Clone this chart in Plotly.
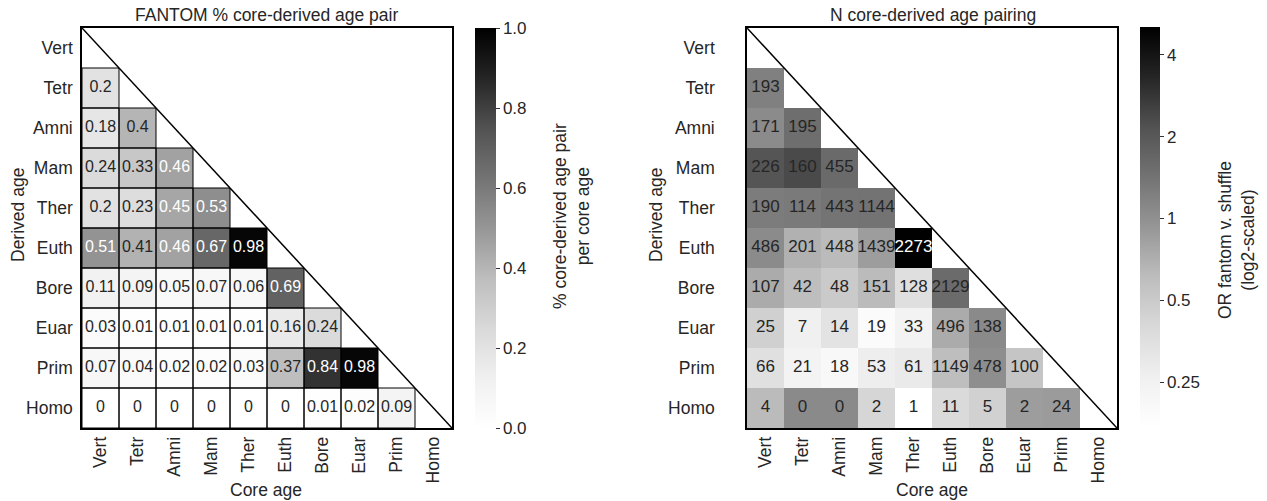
import math
import plotly.graph_objects as go

ages = ["Vert", "Tetr", "Amni", "Mam", "Ther", "Euth", "Bore", "Euar", "Prim", "Homo"]

# Left: fraction of core-derived age pair per core age (row = derived age, lower triangle)
pct_rows = [
    [],
    [0.2],
    [0.18, 0.4],
    [0.24, 0.33, 0.46],
    [0.2, 0.23, 0.45, 0.53],
    [0.51, 0.41, 0.46, 0.67, 0.98],
    [0.11, 0.09, 0.05, 0.07, 0.06, 0.69],
    [0.03, 0.01, 0.01, 0.01, 0.01, 0.16, 0.24],
    [0.07, 0.04, 0.02, 0.02, 0.03, 0.37, 0.84, 0.98],
    [0, 0, 0, 0, 0, 0, 0.01, 0.02, 0.09],
]

# Right: N core-derived age pairings (annotations)
n_rows = [
    [],
    [193],
    [171, 195],
    [226, 160, 455],
    [190, 114, 443, 1144],
    [486, 201, 448, 1439, 2273],
    [107, 42, 48, 151, 128, 2129],
    [25, 7, 14, 19, 33, 496, 138],
    [66, 21, 18, 53, 61, 1149, 478, 100],
    [4, 0, 0, 2, 1, 11, 5, 2, 24],
]

# Right: odds ratio fantom v. shuffle (colour, estimated from greys)
or_rows = [
    [],
    [1.22],
    [1.06, 1.52],
    [2.10, 2.33, 1.60],
    [1.28, 1.30, 1.40, 1.42],
    [1.06, 0.69, 0.62, 0.86, 5.0],
    [0.74, 0.60, 0.50, 0.62, 0.36, 1.58],
    [0.46, 0.26, 0.33, 0.19, 0.24, 0.74, 1.08],
    [0.35, 0.24, 0.21, 0.27, 0.29, 0.60, 1.03, 0.54],
    [0.62, 1.08, 1.08, 0.42, 0.17, 0.39, 0.45, 0.86, 0.88],
]

or_ticks = [0.25, 0.5, 1, 2, 4]
pct_ticks = [0.0, 0.2, 0.4, 0.6, 0.8, 1.0]

W, H = 1267, 501
FONT = "Liberation Sans, Arial, sans-serif"

greys_stops = [(0, 255), (0.125, 240), (0.25, 217), (0.375, 189), (0.5, 150),
               (0.625, 115), (0.75, 82), (0.875, 37), (1, 0)]
greys = [[t, f"rgb({g},{g},{g})"] for t, g in greys_stops]


def grey_at(t):
    t = min(max(t, 0), 1)
    for (t0, g0), (t1, g1) in zip(greys_stops[:-1], greys_stops[1:]):
        if t <= t1:
            return g0 + (g1 - g0) * (t - t0) / (t1 - t0)
    return 0


def lum(g):
    c = g / 255
    return c / 12.92 if c <= 0.03928 else ((c + 0.055) / 1.055) ** 2.4


def to_matrix(rows):
    m = []
    for i, r in enumerate(rows):
        m.append([r[j] if j < len(r) else None for j in range(len(ages))])
    return m


n = len(ages)
idx = list(range(n))

pct_z = to_matrix(pct_rows)
or_log = to_matrix([[math.log2(v) for v in r] for r in or_rows])
zmin_r, zmax_r = -2.55, 2.34

fig = go.Figure()

# Left heatmap
fig.add_trace(go.Heatmap(
    z=pct_z, x=idx, y=idx, colorscale=greys, zmin=0, zmax=1,
    xaxis="x", yaxis="y", hoverongaps=False,
    colorbar=dict(
        x=475 / W, xanchor="left", y=1 - 228 / H, yanchor="middle",
        thickness=21, lenmode="pixels", len=400, ypad=0, xpad=0, outlinewidth=0,
        tickvals=pct_ticks, ticktext=[f"{v:.1f}" for v in pct_ticks],
        ticks="outside", ticklen=4, tickcolor="#333", tickwidth=1,
        tickfont=dict(family=FONT, size=17, color="#262626"),
    ),
))

# Left annotations
lx, ly, lt, lc = [], [], [], []
for i, r in enumerate(pct_rows):
    for j, v in enumerate(r):
        lx.append(j)
        ly.append(i)
        lt.append(f"{v:.2g}")
        lc.append("white" if lum(grey_at(v)) < 0.408 else "#262626")
fig.add_trace(go.Scatter(x=lx, y=ly, text=lt, mode="text", xaxis="x", yaxis="y",
                         textfont=dict(family=FONT, size=16, color=lc),
                         hoverinfo="skip", showlegend=False))

# Right heatmap
fig.add_trace(go.Heatmap(
    z=or_log, x=idx, y=idx, colorscale=greys, zmin=zmin_r, zmax=zmax_r,
    xaxis="x2", yaxis="y2", hoverongaps=False,
    colorbar=dict(
        x=1140 / W, xanchor="left", y=1 - 227 / H, yanchor="middle",
        thickness=20, lenmode="pixels", len=400, ypad=0, xpad=0, outlinewidth=0,
        tickvals=[math.log2(v) for v in or_ticks], ticktext=[f"{v:g}" for v in or_ticks],
        ticks="outside", ticklen=4, tickcolor="#333", tickwidth=1,
        tickfont=dict(family=FONT, size=17, color="#262626"),
    ),
))

rx, ry, rt, rc = [], [], [], []
for i, (rn, ro) in enumerate(zip(n_rows, or_rows)):
    for j, (cnt, o) in enumerate(zip(rn, ro)):
        rx.append(j)
        ry.append(i)
        rt.append(str(cnt))
        t = (math.log2(o) - zmin_r) / (zmax_r - zmin_r)
        rc.append("white" if t > 0.9 else "#262626")
fig.add_trace(go.Scatter(x=rx, y=ry, text=rt, mode="text", xaxis="x2", yaxis="y2",
                         textfont=dict(family=FONT, size=17, color=rc),
                         hoverinfo="skip", showlegend=False))

shapes = []
# cell borders on left heatmap
for i, r in enumerate(pct_rows):
    for j, _ in enumerate(r):
        shapes.append(dict(type="rect", xref="x", yref="y",
                           x0=j - 0.5, x1=j + 0.5, y0=i - 0.5, y1=i + 0.5,
                           line=dict(color="black", width=1), layer="above"))
# diagonals
for xr, yr in (("x", "y"), ("x2", "y2")):
    shapes.append(dict(type="line", xref=xr, yref=yr, x0=-0.5, y0=-0.5,
                       x1=n - 0.5, y1=n - 0.5, line=dict(color="black", width=1.5),
                       layer="above"))

ydom = [1 - 428 / H, 1 - 28 / H]
axis_common = dict(
    showgrid=False, zeroline=False, showline=True, mirror=True,
    linecolor="black", linewidth=1.5, ticks="", automargin=False,
    tickfont=dict(family=FONT, size=17.5, color="#262626"),
    tickvals=idx, ticktext=ages,
)

fig.update_layout(
    width=W, height=H, margin=dict(l=0, r=0, t=0, b=0, autoexpand=False),
    paper_bgcolor="white", plot_bgcolor="white", showlegend=False,
    font=dict(family=FONT, color="#262626"),
    xaxis=dict(domain=[82 / W, 452 / W], range=[-0.5, n - 0.5], tickangle=-90,
               ticklabelstandoff=0, anchor="y", **axis_common),
    yaxis=dict(domain=ydom, range=[n - 0.5, -0.5], ticklabelstandoff=4,
               anchor="x", **axis_common),
    xaxis2=dict(domain=[747 / W, 1117 / W], range=[-0.5, n - 0.5], tickangle=-90,
                ticklabelstandoff=0, anchor="y2", **axis_common),
    yaxis2=dict(domain=ydom, range=[n - 0.5, -0.5], ticklabelstandoff=27,
                anchor="x2", **axis_common),
    shapes=shapes,
)

ann = []


def txt(x, y, s, size=17.5, angle=0):
    ann.append(dict(x=x / W, y=1 - y / H, xref="paper", yref="paper", text=s,
                    showarrow=False, textangle=angle, xanchor="center", yanchor="middle",
                    font=dict(family=FONT, size=size, color="#262626")))


txt(266, 15, "FANTOM % core-derived age pair")
txt(933, 15, "N core-derived age pairing")
txt(266, 490, "Core age")
txt(932, 490, "Core age")
txt(18, 215, "Derived age", angle=-90)
txt(656, 215, "Derived age", angle=-90)
txt(571, 216, "% core-derived age pair<br>per core age", angle=-90)
txt(1236, 240, "OR fantom v. shuffle<br>(log2-scaled)", angle=-90)
fig.update_layout(annotations=ann)

fig.write_html("out.html", config={"displayModeBar": False},
               post_script="document.body.style.margin='0px';")
